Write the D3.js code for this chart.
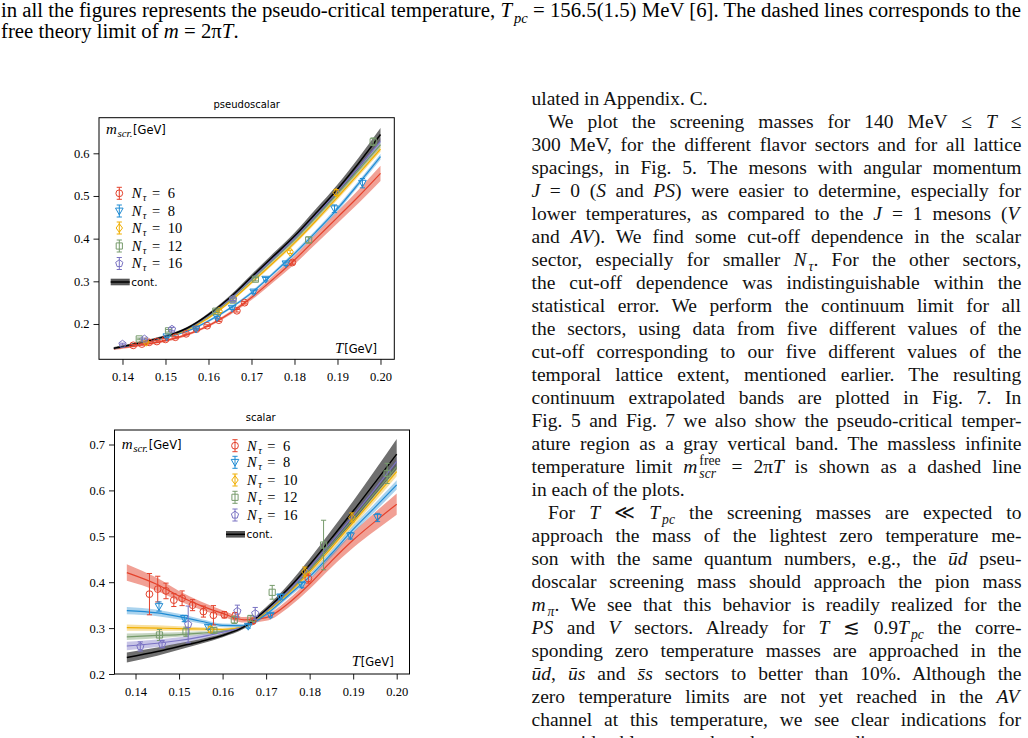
<!DOCTYPE html>
<html><head><meta charset="utf-8">
<script src="https://cdn.jsdelivr.net/npm/d3@7/dist/d3.min.js"></script>
<style>
html,body{margin:0;padding:0;background:#fff;}
svg{display:block;}
text{white-space:pre;}
</style></head><body>
<svg id="c" width="1028" height="738" xmlns="http://www.w3.org/2000/svg"></svg>
<script>
// ================= DATA =================
const SERIES_LABELS = ["6", "8", "10", "12", "16"];
const T_GRID = [0.138, 0.145, 0.150, 0.155, 0.160, 0.165, 0.170, 0.175, 0.180, 0.185, 0.190, 0.195, 0.200];
const X_TICKS = [0.14, 0.15, 0.16, 0.17, 0.18, 0.19, 0.20];
const PS_Y_TICKS = [0.2, 0.3, 0.4, 0.5, 0.6];
const S_Y_TICKS = [0.2, 0.3, 0.4, 0.5, 0.6, 0.7];

// pseudoscalar: fitted curves (on T_GRID) and band half-widths
const PS_FIT_NT6  = [0.142, 0.152, 0.161, 0.175, 0.196, 0.225, 0.262, 0.305, 0.350, 0.400, 0.450, 0.500, 0.553];
const PS_ERR_NT6  = [0.003, 0.003, 0.003, 0.003, 0.003, 0.004, 0.006, 0.008, 0.010, 0.012, 0.014, 0.016, 0.018];
const PS_FIT_NT8  = [0.143, 0.156, 0.168, 0.183, 0.207, 0.237, 0.273, 0.318, 0.365, 0.416, 0.470, 0.530, 0.592];
const PS_ERR_NT8  = [0.002, 0.002, 0.002, 0.002, 0.003, 0.003, 0.004, 0.004, 0.005, 0.005, 0.006, 0.006, 0.007];
const PS_FIT_NT10 = [0.143, 0.157, 0.169, 0.186, 0.214, 0.252, 0.297, 0.343, 0.390, 0.442, 0.497, 0.553, 0.610];
const PS_ERR_NT10 = [0.002, 0.002, 0.002, 0.002, 0.003, 0.003, 0.004, 0.004, 0.005, 0.005, 0.006, 0.006, 0.007];
const PS_FIT_NT12 = [0.143, 0.157, 0.170, 0.188, 0.218, 0.257, 0.303, 0.350, 0.397, 0.450, 0.505, 0.562, 0.620];
const PS_ERR_NT12 = [0.002, 0.002, 0.002, 0.002, 0.003, 0.003, 0.004, 0.004, 0.005, 0.005, 0.006, 0.006, 0.007];
const PS_FIT_NT16 = [0.143, 0.157, 0.170, 0.189, 0.220, 0.259, 0.306, 0.353, 0.401, 0.455, 0.511, 0.569, 0.628];
const PS_ERR_NT16 = [0.002, 0.002, 0.002, 0.002, 0.003, 0.003, 0.004, 0.004, 0.005, 0.005, 0.006, 0.007, 0.008];
const PS_FIT_CONT = [0.143, 0.158, 0.171, 0.190, 0.222, 0.262, 0.310, 0.358, 0.406, 0.460, 0.516, 0.578, 0.644];
const PS_ERR_CONT = [0.003, 0.003, 0.003, 0.003, 0.004, 0.005, 0.006, 0.007, 0.008, 0.010, 0.011, 0.013, 0.015];

// pseudoscalar lattice points [T, m, err]
const PS_PTS_NT6 = [[0.1425, 0.150, 0.002], [0.1445, 0.153, 0.002], [0.1462, 0.157, 0.002], [0.1480, 0.159, 0.002],
  [0.1500, 0.164, 0.002], [0.1523, 0.169, 0.002], [0.1548, 0.177, 0.002], [0.1572, 0.188, 0.002], [0.1597, 0.196, 0.002],
  [0.1624, 0.209, 0.003], [0.1666, 0.231, 0.003], [0.1684, 0.250, 0.003], [0.1795, 0.344, 0.004]];
const PS_PTS_NT8 = [[0.1503, 0.170, 0.002], [0.1571, 0.188, 0.002], [0.1620, 0.215, 0.003], [0.1655, 0.237, 0.003],
  [0.1705, 0.275, 0.004], [0.1733, 0.305, 0.004], [0.1780, 0.341, 0.004], [0.1893, 0.470, 0.009], [0.1958, 0.530, 0.011]];
const PS_PTS_NT10 = [[0.1455, 0.158, 0.002], [0.1625, 0.230, 0.003], [0.1790, 0.369, 0.004], [0.1897, 0.508, 0.007]];
const PS_PTS_NT12 = [[0.1439, 0.165, 0.002], [0.1507, 0.184, 0.003], [0.1617, 0.230, 0.003], [0.1657, 0.256, 0.003],
  [0.1709, 0.305, 0.004], [0.1833, 0.397, 0.007], [0.1983, 0.627, 0.009]];
const PS_PTS_NT16 = [[0.1400, 0.153, 0.002], [0.1451, 0.165, 0.002], [0.1515, 0.188, 0.004], [0.1657, 0.258, 0.003]];

// scalar: fitted curves and band half-widths
const S_FIT_NT6  = [0.421, 0.395, 0.370, 0.349, 0.332, 0.318, 0.323, 0.353, 0.396, 0.446, 0.492, 0.532, 0.570];
const S_ERR_NT6  = [0.018, 0.014, 0.011, 0.009, 0.007, 0.006, 0.007, 0.009, 0.011, 0.014, 0.017, 0.020, 0.023];
const S_FIT_NT8  = [0.338, 0.333, 0.325, 0.315, 0.306, 0.305, 0.330, 0.370, 0.412, 0.462, 0.515, 0.563, 0.612];
const S_ERR_NT8  = [0.008, 0.007, 0.006, 0.005, 0.004, 0.004, 0.004, 0.005, 0.006, 0.007, 0.008, 0.009, 0.010];
const S_FIT_NT10 = [0.301, 0.300, 0.299, 0.298, 0.297, 0.303, 0.335, 0.375, 0.422, 0.475, 0.530, 0.585, 0.641];
const S_ERR_NT10 = [0.007, 0.006, 0.005, 0.004, 0.003, 0.003, 0.004, 0.005, 0.006, 0.007, 0.008, 0.009, 0.010];
const S_FIT_NT12 = [0.281, 0.284, 0.286, 0.289, 0.293, 0.303, 0.337, 0.378, 0.428, 0.482, 0.538, 0.595, 0.652];
const S_ERR_NT12 = [0.007, 0.006, 0.005, 0.004, 0.003, 0.003, 0.004, 0.005, 0.006, 0.007, 0.008, 0.009, 0.010];
const S_FIT_NT16 = [0.261, 0.267, 0.273, 0.281, 0.291, 0.304, 0.338, 0.380, 0.432, 0.488, 0.545, 0.603, 0.663];
const S_ERR_NT16 = [0.009, 0.008, 0.007, 0.005, 0.004, 0.003, 0.004, 0.005, 0.007, 0.008, 0.009, 0.010, 0.011];
const S_FIT_CONT = [0.236, 0.249, 0.260, 0.271, 0.284, 0.303, 0.340, 0.385, 0.438, 0.496, 0.555, 0.617, 0.679];
const S_ERR_CONT = [0.011, 0.009, 0.007, 0.005, 0.004, 0.004, 0.006, 0.009, 0.013, 0.017, 0.022, 0.027, 0.033];

// scalar lattice points [T, m, err]
const S_PTS_NT6 = [[0.1432, 0.374, 0.045], [0.1451, 0.385, 0.028], [0.1470, 0.381, 0.017], [0.1488, 0.361, 0.014],
  [0.1507, 0.365, 0.016], [0.1531, 0.350, 0.012], [0.1556, 0.336, 0.012], [0.1579, 0.328, 0.021], [0.1604, 0.329, 0.007],
  [0.1629, 0.327, 0.007], [0.1669, 0.315, 0.005], [0.1797, 0.408, 0.010]];
const S_PTS_NT8 = [[0.1454, 0.347, 0.010], [0.1512, 0.321, 0.007], [0.1567, 0.302, 0.005], [0.1659, 0.304, 0.004],
  [0.1710, 0.328, 0.004], [0.1733, 0.368, 0.005], [0.1782, 0.394, 0.006], [0.1894, 0.501, 0.007], [0.1956, 0.541, 0.009]];
const S_PTS_NT10 = [[0.1572, 0.297, 0.006], [0.1789, 0.423, 0.010], [0.1897, 0.541, 0.010]];
const S_PTS_NT12 = [[0.1455, 0.285, 0.012], [0.1516, 0.292, 0.010], [0.1580, 0.295, 0.006], [0.1627, 0.318, 0.008],
  [0.1665, 0.321, 0.006], [0.1714, 0.378, 0.015], [0.1832, 0.481, 0.054], [0.1978, 0.637, 0.022]];
const S_PTS_NT16 = [[0.1411, 0.260, 0.010], [0.1461, 0.265, 0.008], [0.1521, 0.308, 0.040], [0.1634, 0.337, 0.013],
  [0.1675, 0.332, 0.013]];

// page text
const CAPTION = [
  [["in all the figures represents the pseudo-critical temperature, "], ["T", "i"], ["pc", "sub"], [" = 156.5(1.5) MeV [6]. The dashed lines corresponds to the"]],
  [["free theory limit of "], ["m", "i"], [" = 2π"], ["T", "i"], ["."]]
];
const BODY = [
  [["ulated in Appendix. C."]],
  [["We plot the screening masses for 140 MeV ≤ "], ["T", "i"], [" ≤"]],
  [["300 MeV, for the different flavor sectors and for all lattice"]],
  [["spacings, in Fig. 5. The mesons with angular momentum"]],
  [["J", "i"], [" = 0 ("], ["S", "i"], [" and "], ["PS", "i"], [") were easier to determine, especially for"]],
  [["lower temperatures, as compared to the "], ["J", "i"], [" = 1 mesons ("], ["V", "i"]],
  [["and "], ["AV", "i"], ["). We find some cut-off dependence in the scalar"]],
  [["sector, especially for smaller "], ["N", "i"], ["τ", "sub"], [". For the other sectors,"]],
  [["the cut-off dependence was indistinguishable within the"]],
  [["statistical error. We perform the continuum limit for all"]],
  [["the sectors, using data from five different values of the"]],
  [["cut-off corresponding to our five different values of the"]],
  [["temporal lattice extent, mentioned earlier. The resulting"]],
  [["continuum extrapolated bands are plotted in Fig. 7. In"]],
  [["Fig. 5 and Fig. 7 we also show the pseudo-critical temper-"]],
  [["ature region as a gray vertical band. The massless infinite"]],
  [["temperature limit "], ["m", "i"], ["free", "sup"], ["scr", "stack"], [" = 2π"], ["T", "i"], [" is shown as a dashed line"]],
  [["in each of the plots."]],
  [["For "], ["T", "i"], [" ≪ "], ["T", "i"], ["pc", "sub"], [" the screening masses are expected to"]],
  [["approach the mass of the lightest zero temperature me-"]],
  [["son with the same quantum numbers, e.g., the "], ["ūd", "i"], [" pseu-"]],
  [["doscalar screening mass should approach the pion mass"]],
  [["m", "i"], ["π", "sub"], [". We see that this behavior is readily realized for the"]],
  [["PS", "i"], [" and "], ["V", "i"], [" sectors. Already for "], ["T", "i"], [" ≲ 0.9"], ["T", "i"], ["pc", "sub"], [" the corre-"]],
  [["sponding zero temperature masses are approached in the"]],
  [["ūd", "i"], [", "], ["ūs", "i"], [" and "], ["s̄s", "i"], [" sectors to better than 10%. Although the"]],
  [["zero temperature limits are not yet reached in the "], ["AV", "i"]],
  [["channel at this temperature, we see clear indications for"]],
  [["a considerable approach to the corresponding zero temperature"]]
];
const BODY_INDENT = [1, 18];
const BODY_RAGGED = [0, 17];

// ================= DRAWING =================
const SERIF = "'Liberation Serif','Times New Roman',serif";
const SANS = "'DejaVu Sans','Liberation Sans',sans-serif";
const COLORS = ["#e4422c", "#1f8bd3", "#f0ae00", "#779b6c", "#7a73c3", "#000000"];
const BANDCOL = ["rgba(228,66,44,0.5)", "rgba(31,139,211,0.38)", "rgba(240,174,0,0.38)",
  "rgba(119,155,108,0.42)", "rgba(122,115,195,0.42)", "rgba(70,70,70,0.78)"];
const MARKERS = ["circle", "tri", "diamond", "square", "pentagon"];

const svg = d3.select("#c");

function markerPath(type) {
  if (type === "circle") return "M3.4,0A3.4,3.4 0 1,1 -3.4,0A3.4,3.4 0 1,1 3.4,0Z";
  if (type === "tri") return "M-3.8,-2.9L3.8,-2.9L0,3.9Z";
  if (type === "diamond") return "M0,-4.3L3.2,0L0,4.3L-3.2,0Z";
  if (type === "square") return "M-3.1,-3.1H3.1V3.1H-3.1Z";
  const p = d3.range(5).map(k => {
    const a = -Math.PI / 2 + k * 2 * Math.PI / 5;
    return [3.8 * Math.cos(a), 3.8 * Math.sin(a)];
  });
  return "M" + p.map(q => q.join(",")).join("L") + "Z";
}

function errPoint(g, cx, cy, ya, yb, i) {
  const c = COLORS[i];
  g.append("line").attr("x1", cx).attr("x2", cx).attr("y1", ya).attr("y2", yb).attr("stroke", c).attr("stroke-width", 1);
  [ya, yb].forEach(yy => g.append("line").attr("x1", cx - 2.6).attr("x2", cx + 2.6).attr("y1", yy).attr("y2", yy)
    .attr("stroke", c).attr("stroke-width", 1));
  g.append("path").attr("d", markerPath(MARKERS[i])).attr("transform", `translate(${cx},${cy})`)
    .attr("fill", "none").attr("stroke", c).attr("stroke-width", 1);
}

function drawPanel(cfg) {
  const g = svg.append("g");
  const x = d3.scaleLinear().domain(cfg.xd).range([cfg.x0, cfg.x1]);
  const y = d3.scaleLinear().domain(cfg.yd).range([cfg.y1, cfg.y0]);
  const cid = cfg.id + "-clip";
  svg.append("defs").append("clipPath").attr("id", cid).append("rect")
    .attr("x", cfg.x0).attr("y", cfg.y0).attr("width", cfg.x1 - cfg.x0).attr("height", cfg.y1 - cfg.y0);
  const plot = g.append("g").attr("clip-path", `url(#${cid})`);
  const area = d3.area().x(d => x(d.t)).y0(d => y(d.m - d.e)).y1(d => y(d.m + d.e)).curve(d3.curveMonotoneX);
  const line = d3.line().x(d => x(d.t)).y(d => y(d.m)).curve(d3.curveMonotoneX);
  const series = cfg.fits.map((f, i) => T_GRID.map((t, k) => ({t: t, m: f[k], e: cfg.errs[i][k]})));
  series.forEach((s, i) => plot.append("path").attr("d", area(s)).attr("fill", BANDCOL[i]));
  series.forEach((s, i) => plot.append("path").attr("d", line(s)).attr("fill", "none")
    .attr("stroke", COLORS[i]).attr("stroke-width", i === 5 ? 1.5 : 1.2));
  cfg.pts.forEach((pts, i) => pts.forEach(([t, m, e]) => errPoint(plot, x(t), y(m), y(m + e), y(m - e), i)));

  // axes
  const ax = g.append("g").attr("transform", `translate(0,${cfg.y1})`)
    .call(d3.axisBottom(x).tickValues(X_TICKS).tickSize(5.5).tickPadding(3).tickFormat(d3.format(".2f")));
  ax.select(".domain").remove();
  ax.selectAll("text").attr("dy", null).attr("y", cfg.xLabOff).attr("font-family", SERIF).attr("font-size", 12.5).attr("fill", "#000");
  const ay = g.append("g").attr("transform", `translate(${cfg.x0},0)`)
    .call(d3.axisLeft(y).tickValues(cfg.yTicks).tickSize(5.5).tickPadding(4).tickFormat(d3.format(".1f")));
  ay.select(".domain").remove();
  ay.selectAll("text").attr("font-family", SERIF).attr("font-size", 12.5).attr("fill", "#000");
  g.selectAll(".tick line").attr("stroke", "#000").attr("stroke-width", 0.9);
  g.append("rect").attr("x", cfg.x0).attr("y", cfg.y0).attr("width", cfg.x1 - cfg.x0).attr("height", cfg.y1 - cfg.y0)
    .attr("fill", "none").attr("stroke", "#000").attr("stroke-width", 1);

  // title
  g.append("text").attr("x", cfg.titleX).attr("y", cfg.titleY).attr("text-anchor", "middle")
    .attr("font-family", SANS).attr("font-size", 10).text(cfg.title);
  // axis labels inside
  const ml = g.append("text").attr("x", cfg.mX).attr("y", cfg.mY).attr("font-family", SERIF).attr("font-size", 15);
  ml.append("tspan").attr("font-style", "italic").text("m");
  ml.append("tspan").attr("font-style", "italic").attr("font-size", 11).attr("dy", 3).attr("dx", 0.6).text("scr.");
  ml.append("tspan").attr("font-family", SANS).attr("font-size", 11.5).attr("dy", -3).attr("dx", 0.6).text("[GeV]");
  const tl = g.append("text").attr("x", cfg.tX).attr("y", cfg.tY).attr("font-family", SERIF).attr("font-size", 15);
  tl.append("tspan").attr("font-style", "italic").text("T");
  tl.append("tspan").attr("font-family", SANS).attr("font-size", 11.5).attr("dx", 0.8).text("[GeV]");

  // legend
  SERIES_LABELS.forEach((lab, i) => {
    const ry = cfg.legRows[i];
    errPoint(g, cfg.legMX, ry, ry - 6, ry + 6, i);
    const t = g.append("text").attr("x", cfg.legTX).attr("y", ry + 4.8).attr("font-family", SERIF).attr("font-size", 14.5);
    t.append("tspan").attr("font-style", "italic").text("N");
    t.append("tspan").attr("font-style", "italic").attr("font-size", 10).attr("dy", 3).attr("dx", 1.5).text("τ");
    t.append("tspan").attr("dy", -3).attr("dx", 5.5).text("=");
    t.append("tspan").attr("dx", 7.5).text(lab);
  });
  const cy = cfg.legRows[5];
  g.append("rect").attr("x", cfg.legBX).attr("y", cy - 3.3).attr("width", 19).attr("height", 6.6).attr("fill", "#555");
  g.append("line").attr("x1", cfg.legBX).attr("x2", cfg.legBX + 19).attr("y1", cy).attr("y2", cy).attr("stroke", "#000").attr("stroke-width", 1.5);
  g.append("text").attr("x", cfg.legBX + 20.5).attr("y", cy + 4).attr("font-family", SANS).attr("font-size", 10.5).text("cont.");
}

drawPanel({
  id: "ps", x0: 99, x1: 394.3, y0: 117.7, y1: 359.3,
  xd: [0.134535, 0.20321], yd: [0.11728, 0.68342], yTicks: PS_Y_TICKS, xLabOff: 22,
  fits: [PS_FIT_NT6, PS_FIT_NT8, PS_FIT_NT10, PS_FIT_NT12, PS_FIT_NT16, PS_FIT_CONT],
  errs: [PS_ERR_NT6, PS_ERR_NT8, PS_ERR_NT10, PS_ERR_NT12, PS_ERR_NT16, PS_ERR_CONT],
  pts: [PS_PTS_NT6, PS_PTS_NT8, PS_PTS_NT10, PS_PTS_NT12, PS_PTS_NT16],
  title: "pseudoscalar", titleX: 246.7, titleY: 107.8,
  mX: 106, mY: 134, tX: 335, tY: 352.5,
  legMX: 119.3, legTX: 131.7, legBX: 110.7, legRows: [193.3, 211, 228, 246, 263.5, 282]
});
drawPanel({
  id: "s", x0: 114.5, x1: 409.5, y0: 430, y1: 674,
  xd: [0.13517, 0.20294], yd: [0.2, 0.7316], yTicks: S_Y_TICKS, xLabOff: 22,
  fits: [S_FIT_NT6, S_FIT_NT8, S_FIT_NT10, S_FIT_NT12, S_FIT_NT16, S_FIT_CONT],
  errs: [S_ERR_NT6, S_ERR_NT8, S_ERR_NT10, S_ERR_NT12, S_ERR_NT16, S_ERR_CONT],
  pts: [S_PTS_NT6, S_PTS_NT8, S_PTS_NT10, S_PTS_NT12, S_PTS_NT16],
  title: "scalar", titleX: 260.7, titleY: 421,
  mX: 121.7, mY: 448.5, tX: 351.7, tY: 666,
  legMX: 235, legTX: 247, legBX: 226, legRows: [445.7, 462.3, 480, 497.3, 515, 534.3]
});

// ---- page text ----
function renderSegs(text, segs, fs) {
  let shift = 0, pend = 0, prev = null, prevKind = "";
  segs.forEach(([s, k]) => {
    const ts = text.append("tspan").text(s);
    let target = 0;
    if (k === "i") ts.attr("font-style", "italic");
    if (k === "sub" || k === "stack") { target = fs * 0.28; ts.attr("font-size", fs * 0.7).attr("font-style", "italic"); }
    if (k === "sup") { target = -fs * 0.4; ts.attr("font-size", fs * 0.7); }
    if (target - shift !== 0) ts.attr("dy", target - shift);
    shift = target;
    let dx = pend; pend = 0;
    if ((k === "sub" || k === "sup") && prevKind === "i") dx += 2;
    if (k === "stack" && prev) {
      const w = prev.node().getComputedTextLength();
      ts.attr("dx", dx - w);
      const w2 = ts.node().getComputedTextLength();
      pend = w - w2;
    } else if (dx) ts.attr("dx", dx);
    prev = ts; prevKind = k || "";
  });
}
function rightEdge(node) { const b = node.getBBox(); return b.x + b.width; }
function fitWidth(text, x0, width, mode) {
  const node = text.node();
  const nat = rightEdge(node) - x0;
  if (mode === "scale") {
    const s = width / nat;
    text.attr("transform", `translate(${x0},0) scale(${s},1) translate(${-x0},0)`);
    return s;
  }
  const n = (node.textContent.match(/ /g) || []).length;
  if (n === 0) return;
  let ws = (width - nat) / n;
  text.style("word-spacing", ws + "px");
  for (let it = 0; it < 2; it++) {
    const now = rightEdge(node) - x0;
    if (Math.abs(now - width) < 0.5) break;
    ws += (width - now) / n;
    text.style("word-spacing", ws + "px");
  }
  const fin = rightEdge(node) - x0;
  if (Math.abs(fin - width) > 2) {
    text.style("word-spacing", null);
    const s = width / nat;
    text.attr("transform", `translate(${x0},0) scale(${s},1) translate(${-x0},0)`);
  }
}

// caption (condensed)
const capG = svg.append("g");
const cap1 = capG.append("text").attr("x", 1).attr("y", 17).attr("font-family", SERIF).attr("font-size", 20);
renderSegs(cap1, CAPTION[0], 20);
const sCap = fitWidth(cap1, 1, 1021, "scale");
const cap2 = capG.append("text").attr("x", 1).attr("y", 38).attr("font-family", SERIF).attr("font-size", 20);
renderSegs(cap2, CAPTION[1], 20);
cap2.attr("transform", `translate(1,0) scale(${sCap},1) translate(-1,0)`);

// right column
const LEFT = 531.5, RIGHT = 1021.5, INDENT = 548;
const bodyG = svg.append("g");
BODY.forEach((segs, i) => {
  const x0 = BODY_INDENT.includes(i) ? INDENT : LEFT;
  const t = bodyG.append("text").attr("x", x0).attr("y", 105 + 23 * i)
    .attr("font-family", SERIF).attr("font-size", 19.5).attr("fill", "#111");
  renderSegs(t, segs, 19.5);
  if (!BODY_RAGGED.includes(i)) fitWidth(t, x0, RIGHT - x0, "words");
});
</script></body></html>
